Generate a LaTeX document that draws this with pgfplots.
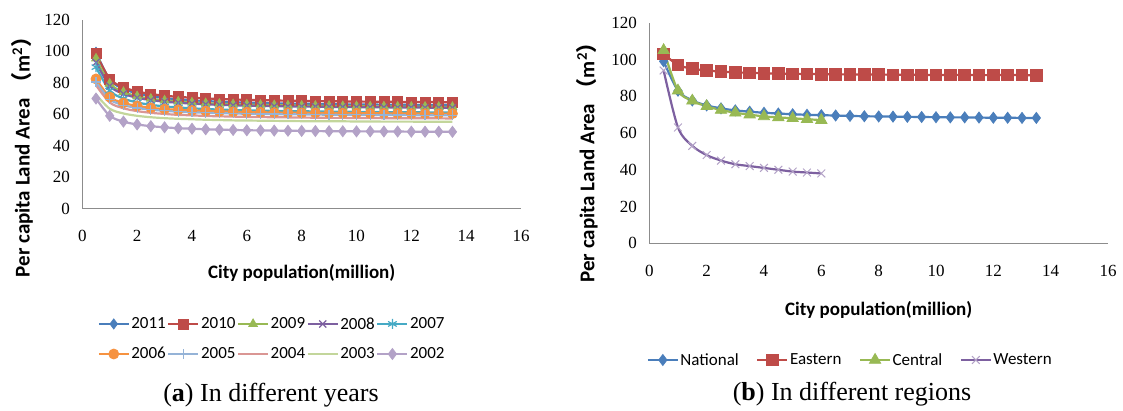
\documentclass[border=0pt]{standalone}
\usepackage{fontspec}
\setmainfont{Liberation Serif}
\newfontfamily\carlito{Carlito}
\newfontfamily\cjk{Noto Sans CJK SC}
\usepackage{pgfplots}
\usepackage{pgfplotstable}
\pgfplotsset{compat=1.18}
\usetikzlibrary{plotmarks}

\definecolor{c2011}{HTML}{4A7EBB}
\definecolor{c2010}{HTML}{BE4B48}
\definecolor{c2009}{HTML}{98B954}
\definecolor{c2008}{HTML}{7D60A0}
\definecolor{c2007}{HTML}{46AAC5}
\definecolor{c2006}{HTML}{F69240}
\definecolor{c2005}{HTML}{95B3D7}
\definecolor{c2004}{HTML}{DA9694}
\definecolor{c2003}{HTML}{C3D69B}
\definecolor{c2002}{HTML}{B3A2C7}
\definecolor{axisgray}{HTML}{8C8C8C}

\pgfplotstableread{
x a2011 a2010 a2009 a2008 a2007 a2006 a2005 a2004 a2003 a2002
0.5 99.5 98.5 95.5 93.0 90.0 82.5 80.5 78.5 72.5 70.0
1.0 82.0 82.5 79.5 78.0 75.0 71.0 69.5 67.5 63.5 59.0
1.5 76.2 77.2 74.2 73.0 70.0 67.2 65.8 63.8 60.5 55.3
2.0 73.3 74.5 71.5 70.5 67.5 65.3 64.0 62.0 59.0 53.5
2.5 71.5 72.9 69.9 69.0 66.0 64.1 62.9 60.9 58.1 52.4
3.0 70.3 71.8 68.8 68.0 65.0 63.3 62.2 60.2 57.5 51.7
3.5 69.5 71.1 68.1 67.3 64.3 62.8 61.6 59.6 57.1 51.1
4.0 68.9 70.5 67.5 66.8 63.8 62.4 61.3 59.3 56.8 50.8
4.5 68.4 70.1 67.1 66.3 63.3 62.1 60.9 58.9 56.5 50.4
5.0 68.0 69.7 66.7 66.0 63.0 61.8 60.7 58.7 56.3 50.2
5.5 67.7 69.4 66.4 65.7 62.7 61.6 60.5 58.5 56.1 50.0
6.0 67.4 69.2 66.2 65.5 62.5 61.4 60.3 58.3 56.0 49.8
6.5 67.2 69.0 66.0 65.3 62.3 61.3 60.2 58.2 55.9 49.7
7.0 67.0 68.8 65.8 65.1 62.1 61.1 60.1 58.1 55.8 49.6
7.5 66.8 68.6 65.6 65.0 62.0 61.0 60.0 58.0 55.7 49.5
8.0 66.7 68.5 65.5 64.9 61.9 60.9 59.9 57.9 55.6 49.4
8.5 66.6 68.4 65.4 64.8 61.8 60.9 59.8 57.8 55.6 49.3
9.0 66.4 68.3 65.3 64.7 61.7 60.8 59.7 57.7 55.5 49.2
9.5 66.3 68.2 65.2 64.6 61.6 60.7 59.7 57.7 55.5 49.2
10.0 66.3 68.1 65.1 64.5 61.5 60.7 59.6 57.6 55.4 49.1
10.5 66.2 68.0 65.0 64.4 61.4 60.6 59.6 57.6 55.4 49.1
11.0 66.1 68.0 65.0 64.4 61.4 60.6 59.5 57.5 55.3 49.0
11.5 66.0 67.9 64.9 64.3 61.3 60.5 59.5 57.5 55.3 49.0
12.0 66.0 67.8 64.8 64.3 61.3 60.5 59.4 57.4 55.3 48.9
12.5 65.9 67.8 64.8 64.2 61.2 60.4 59.4 57.4 55.2 48.9
13.0 65.9 67.7 64.7 64.2 61.2 60.4 59.4 57.4 55.2 48.9
13.5 65.8 67.7 64.7 64.1 61.1 60.4 59.3 57.3 55.2 48.8
}\yearsdata

\pgfplotstableread{
x nat east
0.5 99.0 103.0
1.0 83.0 97.0
1.5 77.7 95.0
2.0 75.0 94.0
2.5 73.4 93.4
3.0 72.3 93.0
3.5 71.6 92.7
4.0 71.0 92.5
4.5 70.6 92.3
5.0 70.2 92.2
5.5 69.9 92.1
6.0 69.7 92.0
6.5 69.5 91.9
7.0 69.3 91.9
7.5 69.1 91.8
8.0 69.0 91.8
8.5 68.9 91.7
9.0 68.8 91.7
9.5 68.7 91.6
10.0 68.6 91.6
10.5 68.5 91.6
11.0 68.5 91.6
11.5 68.4 91.5
12.0 68.3 91.5
12.5 68.3 91.5
13.0 68.2 91.5
13.5 68.2 91.4
}\regionA

\pgfplotstableread{
x cen west
0.5 105.0 94.0
1.0 83.0 63.0
1.5 77.5 53.0
2.0 74.5 48.0
2.5 72.5 45.0
3.0 71.0 43.0
3.5 70.0 42.0
4.0 69.0 41.0
4.5 68.5 40.0
5.0 68.0 39.0
5.5 67.5 38.5
6.0 67.0 38.0
}\regionB

\pgfplotsset{
  mystyle/.style={
    scale only axis, anchor=south west,
    xmin=0, xmax=16, ymin=0, ymax=120,
    xtick={0,2,...,16}, ytick={0,20,...,120},
    axis x line*=bottom, axis y line*=left,
    axis line style={draw=axisgray, line width=1pt, -},
    major tick length=0pt,
    tick label style={font=\fontsize{17}{17}\selectfont},
    /pgf/number format/assume math mode=true,
    xticklabel style={yshift=-18.5pt},
    yticklabel style={xshift=-9pt},
    xlabel style={font=\carlito\bfseries\fontsize{19}{19}\selectfont},
    ylabel style={font=\carlito\bfseries\fontsize{21}{21}\selectfont},
    clip=false,
    legend style={draw=none, fill=none, anchor=center,
      font=\carlito\fontsize{17}{17}\selectfont,
      inner sep=0pt, row sep=14pt, nodes={inner sep=1.5pt}},
    legend cell align=left,
    legend image code/.code={\draw[mark repeat=2,mark phase=2] plot coordinates {(0pt,0pt) (15pt,0pt) (30pt,0pt)};},
  },
  ln/.style={#1, line width=2.2pt, smooth},
  mk/.style={mark options={solid, line width=0.8pt, fill=#1, draw=#1}},
}

\begin{document}
\begin{tikzpicture}[x=1pt,y=1pt]
\path[use as bounding box] (0,0) rectangle (1123,410);

\begin{axis}[mystyle,
  at={(82.3pt,201.5pt)}, width=438.7pt, height=188.5pt,
  xlabel={City population(million)},
  xlabel style={at={(axis description cs:0.5,-0.34)}, anchor=center},
  ylabel={Per capita Land Area {\cjk （}m\textsuperscript{2}{\cjk ）}},
  ylabel style={at={(axis description cs:-0.137,0.30)}, anchor=center},
  legend columns=5,
  legend style={at={(axis description cs:0.432,-0.692)}},
]
\addplot[ln=c2011, mark=diamond*, mark size=5pt, mk=c2011] table[x=x,y=a2011]{\yearsdata};
\addlegendentry{2011}
\addplot[ln=c2010, mark=square*, mark size=5pt, mk=c2010] table[x=x,y=a2010]{\yearsdata};
\addlegendentry{2010}
\addplot[ln=c2009, mark=triangle*, mark size=5pt, mk=c2009] table[x=x,y=a2009]{\yearsdata};
\addlegendentry{2009}
\addplot[ln=c2008, mark=x, mark size=5pt, mark options={solid, line width=1.2pt, draw=c2008}] table[x=x,y=a2008]{\yearsdata};
\addlegendentry{2008}
\addplot[ln=c2007, mark=asterisk, mark size=5pt, mark options={solid, line width=1.2pt, draw=c2007}] table[x=x,y=a2007]{\yearsdata};
\addlegendentry{2007}
\addplot[ln=c2006, mark=*, mark size=5pt, mk=c2006] table[x=x,y=a2006]{\yearsdata};
\addlegendentry{2006}
\addplot[ln=c2005, mark=+, mark size=5pt, mark options={solid, line width=1.2pt, draw=c2005}] table[x=x,y=a2005]{\yearsdata};
\addlegendentry{2005}
\addplot[ln=c2004, no markers] table[x=x,y=a2004]{\yearsdata};
\addlegendentry{2004}
\addplot[ln=c2003, no markers] table[x=x,y=a2003]{\yearsdata};
\addlegendentry{2003}
\addplot[ln=c2002, mark=diamond*, mark size=5.5pt, mk=c2002] table[x=x,y=a2002]{\yearsdata};
\addlegendentry{2002}
\end{axis}

\begin{axis}[mystyle,
  at={(649.3pt,166.7pt)}, width=458.7pt, height=220.6pt,
  xlabel={City population(million)},
  xlabel style={at={(axis description cs:0.5,-0.30)}, anchor=center},
  ylabel={Per capita Land Area {\cjk （}m\textsuperscript{2}{\cjk ）}},
  ylabel style={at={(axis description cs:-0.136,0.39)}, anchor=center},
  legend columns=4,
  legend style={at={(axis description cs:0.4375,-0.529)},
    /tikz/every even column/.append style={column sep=16pt}},
]
\addplot[ln=c2011, mark=diamond*, mark size=5.5pt, mk=c2011] table[x=x,y=nat]{\regionA};
\addlegendentry{National}
\addplot[ln=c2010, mark=square*, mark size=5.8pt, mk=c2010] table[x=x,y=east]{\regionA};
\addlegendentry{Eastern}
\addplot[ln=c2009, mark=triangle*, mark size=6.5pt, mk=c2009] table[x=x,y=cen]{\regionB};
\addlegendentry{Central}
\addplot[ln=c2008, mark=x, mark size=5.5pt, mark options={solid, line width=1pt, draw=c2002}] table[x=x,y=west]{\regionB};
\addlegendentry{Western}
\end{axis}

\node[font=\fontsize{26}{26}\selectfont, anchor=center] at (271,15) {(\textbf{a}) In different years};
\node[font=\fontsize{26}{26}\selectfont, anchor=center] at (852,16) {(\textbf{b}) In different regions};
\end{tikzpicture}
\end{document}
